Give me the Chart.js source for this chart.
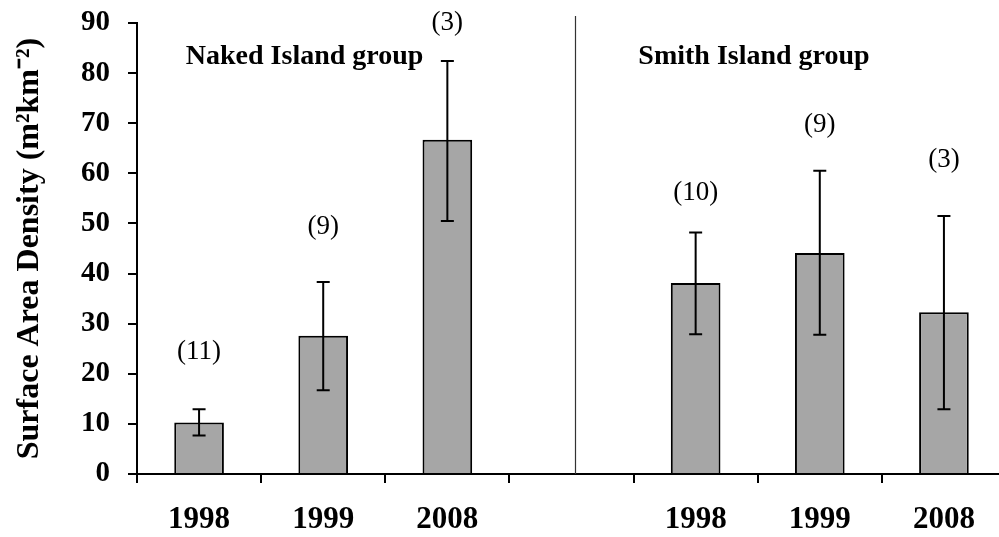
<!DOCTYPE html>
<html>
<head>
<meta charset="utf-8">
<script src="https://cdn.jsdelivr.net/npm/chart.js@4"></script>
<style>
  html, body { margin: 0; padding: 0; background: #fff; overflow: hidden; }
</style>
</head>
<body>
<canvas id="canvas" width="1006" height="537"></canvas>
<script>
// data
const years = ['1998', '1999', '2008', '', '1998', '1999', '2008'];
const density = [10.3, 27.6, 66.7, null, 38.1, 44.1, 32.3];
const errLow = [7.7, 16.7, 50.5, null, 27.9, 27.8, 12.9];
const errHigh = [12.9, 38.3, 82.4, null, 48.2, 60.5, 51.5];
const sampleSize = ['(11)', '(9)', '(3)', '', '(10)', '(9)', '(3)'];
const sampleLabelAt = [24.3, 49.4, 90, null, 56.1, 69.7, 62.7];
const groupNames = ['Naked Island group', 'Smith Island group'];

const serif = "'Liberation Serif', 'Times New Roman', serif";

const extras = {
    id: 'extras',
    afterDatasetsDraw(chart) {
        const ctx = chart.ctx;
        const x = chart.scales.x;
        const y = chart.scales.y;
        const meta = chart.getDatasetMeta(0);
        ctx.save();

        // divider between the two groups
        const dx = Math.round(x.getPixelForValue(3.03)) + 0.5;
        ctx.strokeStyle = '#333';
        ctx.lineWidth = 1.2;
        ctx.beginPath();
        ctx.moveTo(dx, chart.chartArea.top - 7);
        ctx.lineTo(dx, chart.chartArea.bottom);
        ctx.stroke();

        // error bars
        ctx.strokeStyle = '#000';
        ctx.lineWidth = 2;
        meta.data.forEach(function (bar, i) {
            if (density[i] === null) return;
            const cx = bar.x;
            const lo = y.getPixelForValue(errLow[i]);
            const hi = y.getPixelForValue(errHigh[i]);
            ctx.beginPath();
            ctx.moveTo(cx, lo);
            ctx.lineTo(cx, hi);
            ctx.moveTo(cx - 6.5, lo);
            ctx.lineTo(cx + 6.5, lo);
            ctx.moveTo(cx - 6.5, hi);
            ctx.lineTo(cx + 6.5, hi);
            ctx.stroke();
        });

        // sample sizes
        ctx.fillStyle = '#000';
        ctx.font = "27px " + serif;
        ctx.textAlign = 'center';
        ctx.textBaseline = 'middle';
        meta.data.forEach(function (bar, i) {
            if (sampleLabelAt[i] === null) return;
            ctx.fillText(sampleSize[i], bar.x, y.getPixelForValue(sampleLabelAt[i]));
        });

        // group names
        ctx.font = "bold 28px " + serif;
        const gy = y.getPixelForValue(83.3);
        ctx.fillText(groupNames[0], x.getPixelForValue(0.85), gy);
        ctx.fillText(groupNames[1], x.getPixelForValue(4.47), gy);
        ctx.restore();
    }
};

const chart = new Chart(document.getElementById('canvas').getContext('2d'), {
    type: 'bar',
    data: {
        labels: years,
        datasets: [{
            data: density,
            backgroundColor: '#a6a6a6',
            borderColor: '#000',
            borderWidth: 2,
            barPercentage: 0.4,
            categoryPercentage: 1
        }]
    },
    options: {
        responsive: false,
        animation: false,
        events: [],
        layout: {
            padding: { top: 23, right: 0, bottom: 0, left: 0 }
        },
        plugins: {
            legend: { display: false },
            tooltip: { enabled: false }
        },
        scales: {
            x: {
                afterFit(scale) {
                    scale.height = 63;
                    scale.paddingLeft = 0;
                    scale.paddingRight = 0;
                },
                grid: {
                    offset: true,
                    drawOnChartArea: false,
                    drawTicks: true,
                    tickLength: 9,
                    color: '#000',
                    lineWidth: 2
                },
                border: { color: '#000', width: 2 },
                ticks: {
                    color: '#000',
                    padding: 18,
                    font: { family: serif, size: 31, weight: 'bold' }
                }
            },
            y: {
                min: 0,
                max: 90,
                afterFit(scale) {
                    scale.width = 137;
                    scale.paddingTop = 0;
                    scale.paddingBottom = 0;
                },
                grid: {
                    drawOnChartArea: false,
                    drawTicks: true,
                    tickLength: 9,
                    color: '#000',
                    lineWidth: 2
                },
                border: { color: '#000', width: 2 },
                ticks: {
                    stepSize: 10,
                    color: '#000',
                    padding: 18,
                    font: { family: serif, size: 29, weight: 'bold' }
                },
                title: {
                    display: true,
                    text: 'Surface Area Density (m²km⁻²)',
                    color: '#000',
                    padding: { top: 11, bottom: 0 },
                    font: { family: serif, size: 32, weight: 'bold' }
                }
            }
        }
    },
    plugins: [extras]
});
</script>
</body>
</html>
